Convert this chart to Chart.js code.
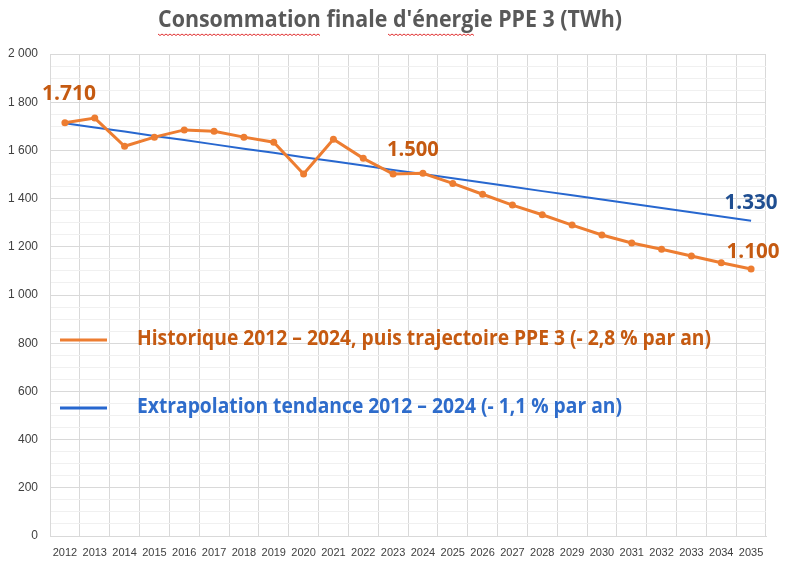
<!DOCTYPE html>
<html>
<head>
<meta charset="utf-8">
<script src="https://cdn.jsdelivr.net/npm/chart.js@4.4.1/dist/chart.umd.min.js"></script>
<style>
  html, body { margin: 0; padding: 0; background: #fff; }
  #wrap { width: 787px; height: 562px; }
</style>
</head>
<body>
<div id="wrap"><canvas id="chart" width="787" height="562"></canvas></div>
<script>
const years = ['2012', '2013', '2014', '2015', '2016', '2017', '2018', '2019', '2020', '2021', '2022', '2023',
  '2024', '2025', '2026', '2027', '2028', '2029', '2030', '2031', '2032', '2033', '2034', '2035'];
const historique = [1715, 1734, 1617, 1655, 1685, 1679, 1655, 1634, 1502, 1646, 1567, 1502,
  1505, 1463, 1418, 1373, 1333, 1290, 1249, 1216, 1190, 1162, 1134, 1108];
const tendance = [1713, 1695, 1678, 1660, 1643, 1625, 1607, 1590, 1572, 1555, 1537, 1519,
  1502, 1484, 1467, 1449, 1431, 1414, 1396, 1379, 1361, 1343, 1326, 1308];
const legendLabels = [
  'Historique 2012 – 2024, puis trajectoire PPE 3 (- 2,8 % par an)',
  'Extrapolation tendance 2012 – 2024 (- 1,1 % par an)',
];
const valueLabels = ['1.710', '1.500', '1.330', '1.100'];

const ORANGE = '#ED7D31';
const ORANGE_TXT = '#C55A11';
const BLUE = '#2767CF';
const BLUE_TXT = '#2E6CCB';
const BLUE_DARK = '#1F4E91';

// title, legend and value labels, drawn on the canvas
const overlay = {
  id: 'overlay',
  afterDatasetsDraw(chart) {
    const ctx = chart.ctx;
    const orange = chart.getDatasetMeta(0).data;
    const blue = chart.getDatasetMeta(1).data;
    ctx.save();
    ctx.textBaseline = 'middle';
    ctx.textAlign = 'center';

    // title
    ctx.fillStyle = '#595959';
    ctx.font = 'bold 23px "Open Sans"';
    ctx.fillText("Consommation finale d'énergie PPE 3 (TWh)", 390, 20, 464);
    // spell-check squiggles
    ctx.strokeStyle = '#e03030';
    ctx.lineWidth = 1;
    [[158, 320], [388, 474]].forEach(([a, b]) => {
      ctx.beginPath();
      for (let x = a; x <= b; x += 2) {
        const y = 34 + ((x - a) % 4 === 0 ? 0 : 1.5);
        if (x === a) ctx.moveTo(x, y); else ctx.lineTo(x, y);
      }
      ctx.stroke();
    });

    // value labels
    ctx.font = 'bold 21px "Open Sans"';
    ctx.fillStyle = ORANGE_TXT;
    ctx.fillText(valueLabels[0], orange[0].x + 4, orange[0].y - 29, 54);
    ctx.fillText(valueLabels[1], orange[12].x - 10, orange[12].y - 23, 52);
    ctx.fillText(valueLabels[3], orange[23].x + 2, orange[23].y - 17, 53);
    ctx.fillStyle = BLUE_DARK;
    ctx.fillText(valueLabels[2], blue[23].x, blue[23].y - 18, 53);

    // legend
    ctx.textAlign = 'left';
    ctx.lineWidth = 3;
    ctx.font = 'bold 21px "Open Sans"';
    ctx.strokeStyle = ORANGE;
    ctx.beginPath(); ctx.moveTo(60, 340); ctx.lineTo(107, 340); ctx.stroke();
    ctx.fillStyle = ORANGE_TXT;
    ctx.fillText(legendLabels[0], 137, 339, 574);
    ctx.strokeStyle = BLUE;
    ctx.beginPath(); ctx.moveTo(60, 408); ctx.lineTo(107, 408); ctx.stroke();
    ctx.fillStyle = BLUE_TXT;
    ctx.fillText(legendLabels[1], 137, 407, 485);
    ctx.restore();
  },
};

new Chart(document.getElementById('chart'), {
  type: 'line',
  data: {
    labels: years,
    datasets: [
      {
        data: historique,
        borderColor: ORANGE,
        backgroundColor: ORANGE,
        borderWidth: 3,
        pointRadius: 3.5,
        pointBorderWidth: 0,
        tension: 0,
      },
      {
        data: tendance,
        borderColor: BLUE,
        borderWidth: 2,
        pointRadius: 0,
        tension: 0,
      },
    ],
  },
  options: {
    responsive: false,
    animation: false,
    layout: { padding: { top: 54, right: 21, left: 0, bottom: 0 } },
    plugins: { legend: { display: false }, title: { display: false }, tooltip: { enabled: false } },
    scales: {
      x: {
        offset: true,
        grid: { offset: true, color: '#d9d9d9', drawTicks: false },
        border: { color: '#d9d9d9' },
        ticks: {
          autoSkip: false, maxRotation: 0, minRotation: 0, padding: 10,
          color: '#404040', font: { family: 'Liberation Sans', size: 11 },
        },
        afterFit(scale) { scale.height = 26; },
      },
      y: {
        min: 0,
        max: 2000,
        grid: {
          drawTicks: false,
          color: (c) => (c.tick && c.tick.value % 200 === 0 ? '#d9d9d9' : '#f0f0f0'),
        },
        border: { color: '#d9d9d9' },
        ticks: {
          stepSize: 50, autoSkip: false, padding: 12,
          color: '#404040', font: { family: 'Liberation Sans', size: 12 },
          callback: (v) => (v % 200 === 0 ? String(v).replace(/\B(?=(\d{3})+(?!\d))/g, ' ') : ''),
        },
        afterFit(scale) { scale.width = 50; },
      },
    },
  },
  plugins: [overlay],
});
</script>
</body>
</html>
